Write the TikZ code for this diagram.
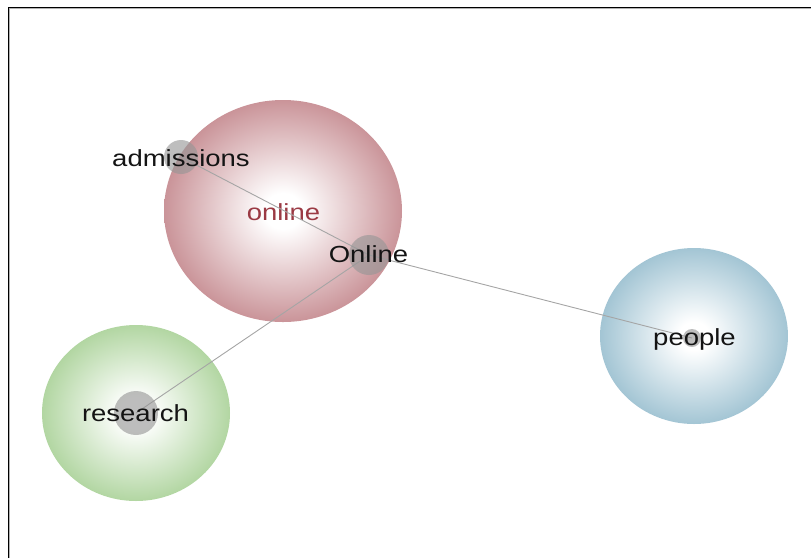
\documentclass[tikz,border=0pt]{standalone}
\usepackage{fontspec}
\newfontfamily\labfont[FakeStretch=1.18]{Liberation Sans}
\definecolor{redouter}{RGB}{202,148,153}
\definecolor{greenouter}{RGB}{178,214,162}
\definecolor{blueouter}{RGB}{163,197,212}
\definecolor{onlinered}{RGB}{155,58,68}
\definecolor{edgegray}{RGB}{165,165,165}
\definecolor{dotgray}{RGB}{150,150,150}
\pgfdeclareradialshading{ballred}{\pgfpoint{0bp}{0bp}}{color(0bp)=(white); color(4bp)=(white); color(25bp)=(redouter); color(50bp)=(redouter)}
\pgfdeclareradialshading{ballgreen}{\pgfpoint{0bp}{0bp}}{color(0bp)=(white); color(4bp)=(white); color(25bp)=(greenouter); color(50bp)=(greenouter)}
\pgfdeclareradialshading{ballblue}{\pgfpoint{0bp}{0bp}}{color(0bp)=(white); color(4bp)=(white); color(25bp)=(blueouter); color(50bp)=(blueouter)}
\tikzset{
  cluster/.style={ellipse, inner sep=0pt, minimum width=#1},
  dot/.style={circle, inner sep=0pt, fill=dotgray, fill opacity=0.62, minimum size=#1},
  lab/.style={anchor=base, inner sep=0pt, font=\labfont\fontsize{23.3}{24}\selectfont, text={rgb,255:red,20;green,20;blue,20}},
  link/.style={draw=edgegray, line width=0.9pt},
}
\begin{document}
\begin{tikzpicture}[x=1pt,y=-1pt]
\useasboundingbox (0,0) rectangle (811,558);
% frame
\draw[gray!60, line width=1pt] (9.5,558) -- (9.5,8.5) -- (811,8.5);
\draw[black, line width=1.3pt] (8.3,558) -- (8.3,7.3) -- (811,7.3);
% clusters
\path[shading=ballred] (283,211) ellipse [x radius=119, y radius=111];
\path[shading=ballgreen] (136,413) ellipse [x radius=94, y radius=88];
\path[shading=ballblue] (694,336) ellipse [x radius=94, y radius=88];
\node[lab, text=onlinered] (lonline) at (283.5,220) {online};
% word dots
\coordinate (cadm) at (181,157);
\coordinate (conl) at (369,255);
\coordinate (cres) at (136,413);
\coordinate (cpeo) at (692,338);
\draw[link] (cadm) -- (conl);
\draw[link] (conl) -- (cres);
\draw[link] (conl) -- (cpeo);
\node[dot=34pt] (dadm) at (cadm) {};
\node[dot=40pt] (donl) at (conl) {};
\node[dot=44pt] (dres) at (cres) {};
\node[dot=18pt] (dpeo) at (cpeo) {};
% labels
\node[lab] (tadm) at (181,166) {admissions};
\node[lab] (tonl) at (368.5,262.3) {Online};
\node[lab] (tres) at (135.5,421.5) {research};
\node[lab] (tpeo) at (694.5,345) {people};
\end{tikzpicture}
\end{document}
